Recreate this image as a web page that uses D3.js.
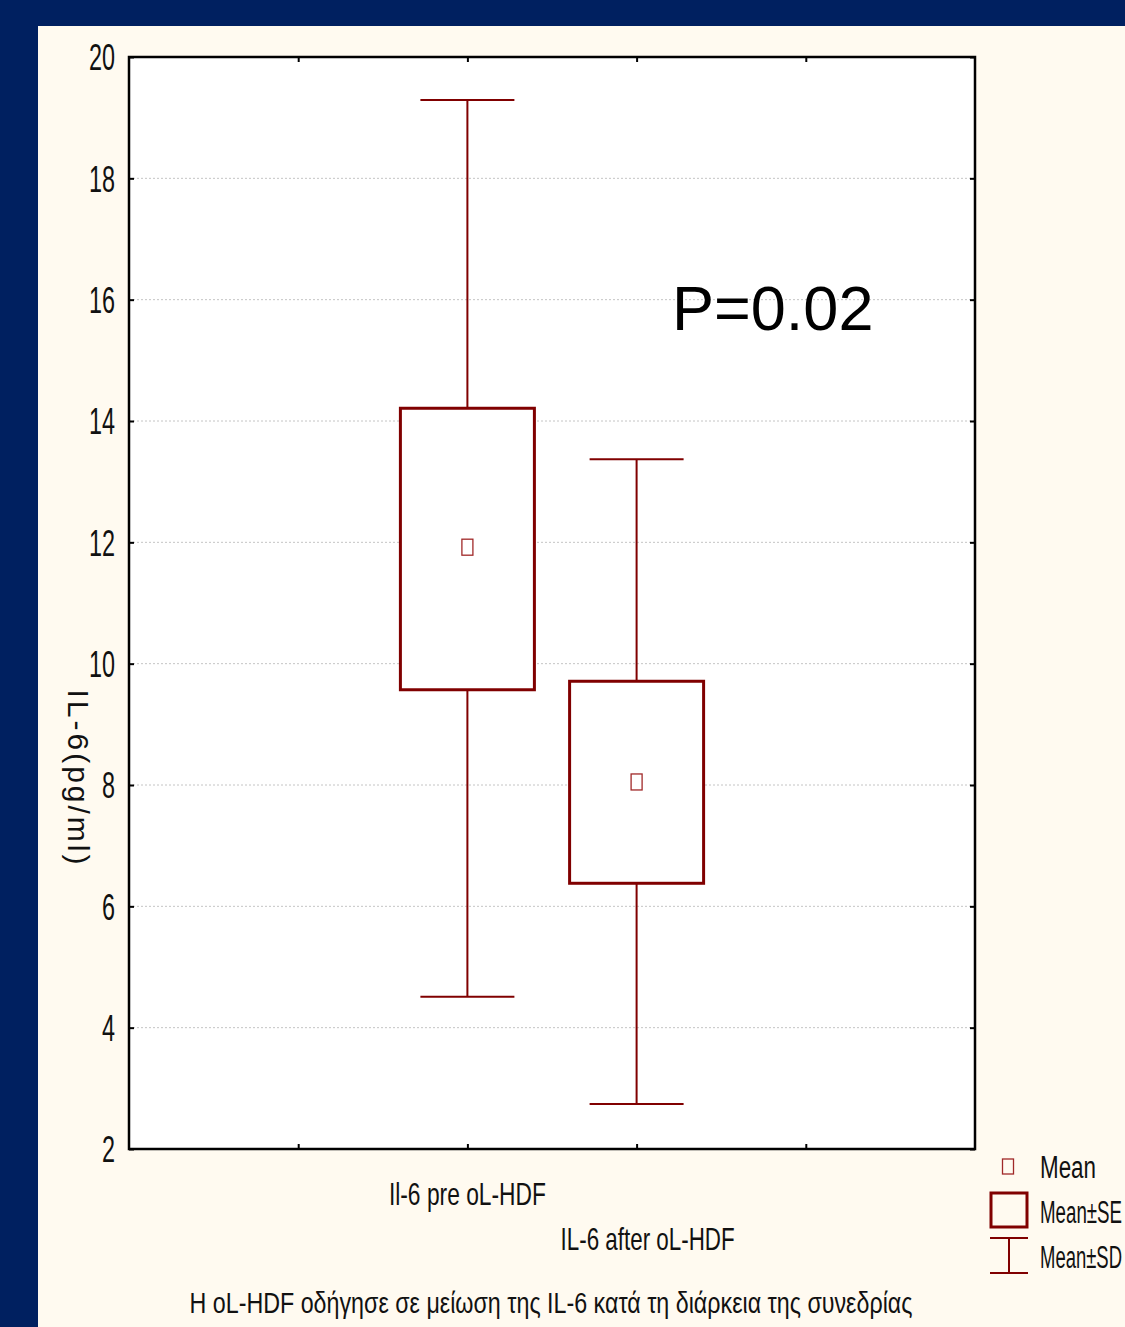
<!DOCTYPE html>
<html>
<head>
<meta charset="utf-8">
<script src="https://cdn.jsdelivr.net/npm/d3@7"></script>
<style>
  html, body { margin: 0; padding: 0; background: #002060; }
  svg { display: block; }
  .narrow { font-family: "Liberation Sans Narrow", "Arial Narrow", "Liberation Sans", Arial, sans-serif; }
</style>
</head>
<body>
<svg></svg>
<script>
/* data */
var categories = ["Il-6 pre oL-HDF", "IL-6 after oL-HDF"];
var catPos = [2, 3];               // positions on the 0..5 x axis
var means = [11.92, 8.05];
var boxLow = [9.57, 6.38];
var boxHigh = [14.21, 9.71];
var whiskLow = [4.51, 2.74];
var whiskHigh = [19.29, 13.37];
var yTicks = [2, 4, 6, 8, 10, 12, 14, 16, 18, 20];
var xTicks = [1, 2, 3, 4];
var legendLabels = ["Mean", "Mean\u00b1SE", "Mean\u00b1SD"];

/* svg setting */
var svgWidth = 1125;
var svgHeight = 1327;
var plot = {left: 129, right: 975, top: 57, bottom: 1149};
var red = "#800000";

var svg = d3.select("svg")
    .attr("width", svgWidth)
    .attr("height", svgHeight);

// cream panel
svg.append("rect")
    .attr("x", 38).attr("y", 26)
    .attr("width", svgWidth - 38).attr("height", svgHeight - 26)
    .attr("fill", "#fffaf0");

// plot area
svg.append("rect")
    .attr("x", plot.left).attr("y", plot.top)
    .attr("width", plot.right - plot.left).attr("height", plot.bottom - plot.top)
    .attr("fill", "#ffffff");

var x = d3.scaleLinear().domain([0, 5]).range([plot.left, plot.right]);
var y = d3.scaleLinear().domain([2, 20]).range([plot.bottom, plot.top]);

// grid lines
svg.append("g")
  .selectAll("line")
  .data(yTicks.slice(1, -1))
  .enter().append("line")
    .attr("x1", plot.left).attr("x2", plot.right)
    .attr("y1", function(d){ return y(d); })
    .attr("y2", function(d){ return y(d); })
    .attr("stroke", "#c4c4c4")
    .attr("stroke-width", 1)
    .attr("stroke-dasharray", "2,2");

/* axes, ticks pointing inward */
var leftAxis = svg.append("g")
    .attr("transform", translate(plot.left, 0))
    .call(d3.axisLeft(y).tickValues(yTicks).tickSize(-5).tickPadding(14).tickFormat(d3.format("d")));
leftAxis.selectAll("text")
    .attr("class", "narrow")
    .attr("font-size", 36)
    .attr("fill", "#111")
    .attr("dy", "0.36em")
    .attr("textLength", function(d){ return String(d).length * 13; })
    .attr("lengthAdjust", "spacingAndGlyphs");

svg.append("g")
    .attr("transform", translate(plot.right, 0))
    .call(d3.axisRight(y).tickValues(yTicks).tickSize(-5).tickFormat(""));

svg.append("g")
    .attr("transform", translate(0, plot.top))
    .call(d3.axisTop(x).tickValues(xTicks).tickSize(-5).tickFormat(""));

svg.append("g")
    .attr("transform", translate(0, plot.bottom))
    .call(d3.axisBottom(x).tickValues(xTicks).tickSize(-5).tickFormat(""));

svg.selectAll(".domain").remove();
svg.selectAll(".tick line").attr("stroke", "#000").attr("stroke-width", 2);

// frame
svg.append("rect")
    .attr("x", plot.left).attr("y", plot.top)
    .attr("width", plot.right - plot.left).attr("height", plot.bottom - plot.top)
    .attr("fill", "none")
    .attr("stroke", "#000")
    .attr("stroke-width", 2.5);

/* box plots */
var boxHalf = 67;
var capHalf = 47;
var idx = d3.range(categories.length);
var g = svg.append("g");

// whiskers
g.selectAll(".whisk")
  .data(idx).enter().append("line")
    .attr("x1", function(i){ return x(catPos[i]); })
    .attr("x2", function(i){ return x(catPos[i]); })
    .attr("y1", function(i){ return y(whiskLow[i]); })
    .attr("y2", function(i){ return y(whiskHigh[i]); })
    .attr("stroke", red).attr("stroke-width", 2);

[whiskLow, whiskHigh].forEach(function(arr){
  g.selectAll(null)
    .data(idx).enter().append("line")
      .attr("x1", function(i){ return x(catPos[i]) - capHalf; })
      .attr("x2", function(i){ return x(catPos[i]) + capHalf; })
      .attr("y1", function(i){ return y(arr[i]); })
      .attr("y2", function(i){ return y(arr[i]); })
      .attr("stroke", red).attr("stroke-width", 2);
});

// boxes
g.selectAll(".box")
  .data(idx).enter().append("rect")
    .attr("x", function(i){ return x(catPos[i]) - boxHalf; })
    .attr("y", function(i){ return y(boxHigh[i]); })
    .attr("width", boxHalf * 2)
    .attr("height", function(i){ return y(boxLow[i]) - y(boxHigh[i]); })
    .attr("fill", "#ffffff")
    .attr("stroke", red).attr("stroke-width", 3);

// mean markers
g.selectAll(".mean")
  .data(idx).enter().append("rect")
    .attr("x", function(i){ return x(catPos[i]) - 5.5; })
    .attr("y", function(i){ return y(means[i]) - 8; })
    .attr("width", 11).attr("height", 16)
    .attr("fill", "none")
    .attr("stroke", "#a02828").attr("stroke-width", 1.3);

/* category labels, staggered */
svg.selectAll(".xlab")
  .data(idx).enter().append("text")
    .attr("class", "narrow")
    .attr("x", function(i){ return x(catPos[i]) + (i === 0 ? 0 : 11); })
    .attr("y", function(i){ return plot.bottom + 56 + i * 45; })
    .attr("text-anchor", "middle")
    .attr("font-size", 32)
    .attr("fill", "#111")
    .attr("textLength", function(i){ return i === 0 ? 157 : 174; })
    .attr("lengthAdjust", "spacingAndGlyphs")
    .text(function(i){ return categories[i]; });

// y axis title
svg.append("text")
    .attr("transform", translate(68, 777) + " rotate(90)")
    .attr("text-anchor", "middle")
    .attr("font-family", "Liberation Sans, Arial, sans-serif")
    .attr("font-size", 30)
    .attr("fill", "#111")
    .attr("textLength", 175)
    .attr("lengthAdjust", "spacing")
    .text("IL-6(pg/ml)");

// p value
svg.append("text")
    .attr("x", 672).attr("y", 330)
    .attr("font-family", "Liberation Sans, Arial, sans-serif")
    .attr("font-size", 63)
    .attr("fill", "#000")
    .text("P=0.02");

// caption
svg.append("text")
    .attr("class", "narrow")
    .attr("x", 551).attr("y", 1313)
    .attr("text-anchor", "middle")
    .attr("font-size", 29)
    .attr("fill", "#111")
    .attr("textLength", 723)
    .attr("lengthAdjust", "spacingAndGlyphs")
    .text("H oL-HDF οδήγησε σε μείωση της IL-6 κατά τη διάρκεια της συνεδρίας");

/* legend */
var lg = svg.append("g");
lg.append("rect")
    .attr("x", 1002.5).attr("y", 1159).attr("width", 11).attr("height", 15)
    .attr("fill", "none").attr("stroke", "#a02828").attr("stroke-width", 1.3);
lg.append("rect")
    .attr("x", 991).attr("y", 1193).attr("width", 36).attr("height", 34)
    .attr("fill", "none").attr("stroke", red).attr("stroke-width", 3);
lg.append("line").attr("x1", 990).attr("x2", 1028).attr("y1", 1238).attr("y2", 1238)
    .attr("stroke", red).attr("stroke-width", 2);
lg.append("line").attr("x1", 990).attr("x2", 1028).attr("y1", 1273).attr("y2", 1273)
    .attr("stroke", red).attr("stroke-width", 2);
lg.append("line").attr("x1", 1009).attr("x2", 1009).attr("y1", 1238).attr("y2", 1273)
    .attr("stroke", red).attr("stroke-width", 2);

// the reference runs out of room at the right edge; squeeze to fit
lg.selectAll("text")
  .data(legendLabels).enter().append("text")
    .attr("class", "narrow")
    .attr("x", 1040)
    .attr("y", function(d, i){ return 1178 + i * 45; })
    .attr("font-size", 31)
    .attr("fill", "#111")
    .attr("textLength", function(d){ return Math.min(d.length * 14, 82); })
    .attr("lengthAdjust", "spacingAndGlyphs")
    .text(function(d){ return d; });

function translate(x, y) {
  return "translate(" + x + "," + y + ")";
}
</script>
</body>
</html>
